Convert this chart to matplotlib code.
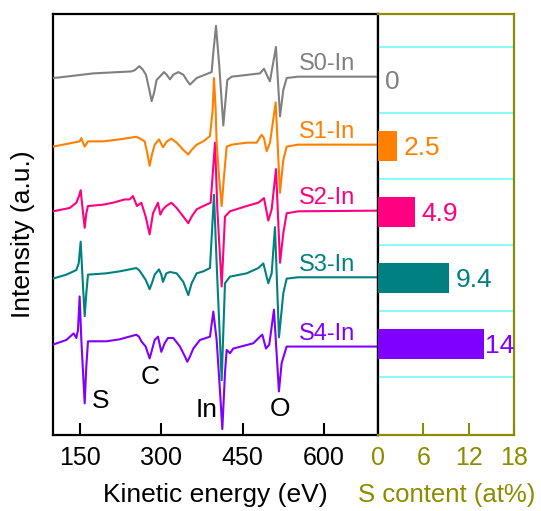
import matplotlib
matplotlib.use("Agg")
import matplotlib.pyplot as plt

plt.rcParams['font.family'] = ['Liberation Sans', 'DejaVu Sans']

# Auger spectra (derivative mode), intensity relative to each curve's baseline
samples = ['S0-In', 'S1-In', 'S2-In', 'S3-In', 'S4-In']
colors = ['#808080', '#ff8000', '#ff0080', '#008080', '#8000ff']

E0 = [100, 112.9, 174.4, 245.2, 251.3, 259.3, 265.5, 271.6, 277.8, 282.1, 286.4, 291.3, 300.6,
      304.9, 309.8, 316, 322.1, 331.3, 340.6, 346.7, 352.9, 359, 365.2, 386.7, 392.9, 395.9,
      400.9, 407, 414.4, 421.8, 429.8, 482.1, 489.5, 497.4, 500.5, 511.6, 519.1, 525.2, 531.4,
      552, 700]
I0 = [-0.02, -0.01, 0.05, 0.08, 0.10, 0.16, 0.11, 0.03, -0.20, -0.37, -0.25, -0.05, 0.03,
      0.07, 0.03, -0.04, 0.03, 0.07, 0.03, -0.05, -0.12, -0.07, -0.02, 0.05, 0.07, 0.36,
      0.77, 0.16, -0.74, -0.05, 0.0, 0.05, 0.12, -0.02, -0.07, 0.45, -0.60, -0.20, -0.02,
      0.0, 0.0]

E1 = [100, 149.2, 152.3, 155.4, 158.5, 164.6, 192.3, 223, 253.8, 261.2, 269.2, 274.1, 278.4,
      282.7, 287.7, 295.7, 303, 310.4, 318.4, 328.3, 340.6, 349.8, 356, 365.2, 377.5, 389.8,
      394.8, 397.2, 400.3, 402.1, 406.5, 411.4, 415.7, 420.6, 429.8, 457.5, 476, 485.2, 489.5,
      494.4, 500.6, 511.1, 519, 525.2, 531.4, 552, 700]
I1 = [-0.03, 0.05, 0.10, 0.03, -0.03, 0.05, 0.05, 0.08, 0.12, 0.09, 0.05, -0.13, -0.32,
      -0.15, 0.0, 0.08, -0.04, 0.05, 0.09, 0.03, -0.08, -0.15, -0.08, 0.0, 0.05, 0.13,
      0.53, 1.01, 0.53, 0.03, -0.48, -0.93, -0.48, -0.03, 0.0, 0.03, 0.03, 0.15, 0.10,
      -0.10, 0.03, 0.64, -0.73, -0.23, -0.03, 0.0, 0.0]

E2 = [100, 130.8, 143.1, 148, 151.1, 154.1, 158.5, 161.5, 164.6, 192.3, 210.8, 232.3, 241.5,
      247.7, 252.6, 255, 263.1, 271.1, 278.4, 284.6, 293.8, 298.1, 303, 309.2, 318.4, 328.3,
      340.6, 349.8, 356, 365.2, 377.5, 391, 399.1, 403.4, 411.4, 417.5, 426.8, 457.5, 479,
      489.5, 497.5, 503.7, 511.7, 519.1, 525.2, 531.4, 552.9, 700]
I2 = [-0.01, 0.04, 0.12, 0.22, 0.31, 0.07, -0.26, -0.04, 0.07, 0.09, 0.12, 0.17, 0.17,
      0.22, 0.12, 0.07, 0.12, -0.09, -0.36, -0.04, 0.12, -0.06, 0.02, 0.07, 0.12, 0.04,
      -0.09, -0.19, -0.09, 0.02, 0.07, 0.12, 1.03, 0.02, -1.15, -0.09, -0.01, 0.07, 0.12,
      0.19, -0.15, 0.02, 0.63, -0.79, -0.34, -0.04, -0.01, 0.0]

E3 = [100, 124.6, 143.1, 147.4, 151.1, 154.1, 158.5, 161.5, 164.6, 198.4, 223.1, 253.8,
      258.7, 263.1, 271.1, 278.4, 283.4, 287.7, 295.7, 300, 303, 309.2, 316, 328.3, 340.6,
      349.8, 356, 365.2, 377.5, 389.8, 397.2, 402.1, 411.4, 417.5, 426.8, 457.5, 479.1, 488.3,
      497.5, 503.7, 509.8, 517.2, 525.2, 531.4, 552, 700]
I3 = [-0.02, 0.04, 0.11, 0.21, 0.54, 0.06, -0.59, -0.24, 0.04, 0.06, 0.09, 0.14, 0.11,
      0.06, -0.04, -0.18, -0.07, 0.04, 0.12, 0.04, -0.07, 0.06, 0.08, 0.06, -0.07, -0.27,
      -0.09, 0.06, 0.09, 0.14, 1.25, 0.21, -1.56, -0.09, 0.01, 0.06, 0.14, 0.21, -0.09,
      0.06, 0.76, -0.91, -0.24, -0.02, 0.0, 0.0]

E4 = [100, 124.6, 138.1, 143.1, 146.1, 149.2, 152.3, 158.5, 161.5, 164.6, 198.4, 223,
      253.8, 258.7, 263.1, 271.1, 278.4, 283.4, 287.7, 293.8, 300, 306.1, 312.3, 322.1,
      334.4, 343.6, 347.9, 352.9, 359, 371.3, 389.8, 396, 402.1, 408.2, 412.6, 417.5, 420.6,
      426.7, 432.9, 469.8, 482.1, 486.4, 493.2, 499.3, 507.9, 517.1, 522.1, 531.3, 552, 700]
I4 = [0.03, 0.10, 0.20, 0.13, 0.25, 0.76, 0.10, -0.86, -0.30, 0.08, 0.08, 0.11, 0.18,
      0.15, 0.08, 0.0, -0.18, -0.03, 0.10, 0.15, -0.08, 0.05, 0.13, 0.13, 0.0, -0.15,
      -0.23, -0.15, -0.03, 0.10, 0.15, 0.53, 0.10, -0.66, -1.25, -0.40, -0.05, -0.10, -0.03,
      0.05, 0.15, 0.18, -0.03, 0.03, 0.56, -0.68, -0.25, 0.0, 0.0, 0.0]

# S content from the spectra (at%)
s_content = [0, 2.5, 4.9, 9.4, 14]

energies = [E0, E1, E2, E3, E4]
intensities = [I0, I1, I2, I3, I4]
offsets = [4.09, 3.06, 2.06, 1.05, 0.0]

olive = '#8c8c00'

fig = plt.figure(figsize=(5.41, 5.11), dpi=100)
ax = fig.add_axes([53 / 541, 76 / 511, 325 / 541, 421 / 511])
ax2 = fig.add_axes([378 / 541, 76 / 511, 136 / 541, 421 / 511])

# spectra, upper curves drawn on top
for i in range(len(samples)):
    ys = [v + offsets[i] for v in intensities[i]]
    ax.plot(energies[i], ys, color=colors[i], lw=1.5, zorder=10 - i,
            solid_joinstyle='round')
    ax.text(606, offsets[i] + 0.23, samples[i], color=colors[i], fontsize=17,
            ha='center', va='center_baseline')

for lab, x, y in [('S', 187, -0.79), ('C', 280, -0.42), ('In', 384, -0.92), ('O', 519, -0.91)]:
    ax.text(x, y, lab, fontsize=19, ha='center', va='center_baseline')

ax.set_xlim(100, 700)
ax.set_ylim(-1.34, 5.04)
ax.set_xticks([150, 300, 450, 600])
ax.set_yticks([])
ax.tick_params(axis='x', direction='in', length=8.5, width=1.5, labelsize=18, pad=8)
for sp in ax.spines.values():
    sp.set_linewidth(1.6)

# S content bars
pos = [4, 3, 2, 1, 0]
ax2.barh(pos, s_content, height=0.46, color=colors, zorder=3)
for p, v, c in zip(pos, s_content, colors):
    pad = 0.9 if v < 12 else 0.15
    ax2.text(v + pad, p, f'{v:g}', color=c, fontsize=19, ha='left', va='center_baseline')
for g in [-0.5, 0.5, 1.5, 2.5, 3.5, 4.5]:
    ax2.axhline(g, color='#7ffcfc', lw=1.3, zorder=1)

ax2.set_xlim(0, 18)
ax2.set_ylim(-1.38, 5.0)
ax2.set_xticks([0, 6, 12, 18])
ax2.set_yticks([])
ax2.tick_params(axis='x', direction='in', length=8.5, width=1.5, labelsize=18, pad=8,
                colors=olive)
for name, sp in ax2.spines.items():
    sp.set_linewidth(1.6)
    sp.set_color(olive)
ax2.spines['left'].set_color('black')

fig.text(215.5 / 541, 1 - 501.5 / 511, 'Kinetic energy (eV)', fontsize=19,
         ha='center', va='baseline')
fig.text(447 / 541, 1 - 501.5 / 511, 'S content (at%)', fontsize=18.5, color=olive,
         ha='center', va='baseline')
fig.text(23 / 541, 1 - 234 / 511, 'Intensity (a.u.)', fontsize=19, rotation=90,
         ha='center', va='center')

fig.savefig('out.png', dpi=100)
